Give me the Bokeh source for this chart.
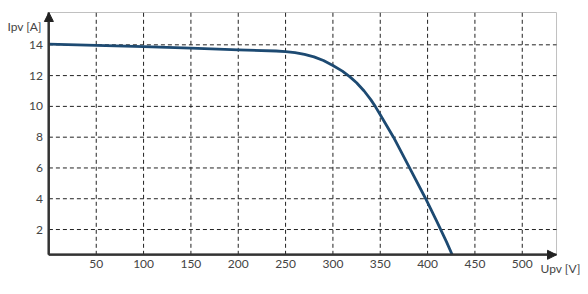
from bokeh.plotting import figure
from bokeh.models import FixedTicker, Arrow, NormalHead, Label, Range1d
from bokeh.embed import file_html
from bokeh.resources import INLINE

# Data (I-V curve)
upv = [0, 50, 100, 150, 200, 240, 250, 260, 270, 280, 290, 300, 310, 318,
       325, 333, 340, 345, 350, 364, 381, 398, 410, 420, 426]
ipv = [14.05, 13.97, 13.88, 13.78, 13.67, 13.6, 13.56, 13.49, 13.38, 13.22,
       12.98, 12.66, 12.29, 11.92, 11.54, 11.0, 10.44, 9.97, 9.46, 8.0, 6.0,
       4.0, 2.5, 1.2, 0.36]
x_ticks = [50, 100, 150, 200, 250, 300, 350, 400, 450, 500]
y_ticks = [2, 4, 6, 8, 10, 12, 14]
x_label = "Upv [V]"
y_label = "Ipv [A]"

# axes box (data units) and the visible window around it
X0, X1 = 0, 536.2
Y0, Y1 = 0.357, 16.1
XS, XE = -51.13, 569.98
YS, YE = -2.222, 16.88

FONT = "Lato"
TXT = "#444444"

p = figure(width=588, height=294, output_backend="svg", toolbar_location=None,
           x_range=Range1d(XS, XE), y_range=Range1d(YS, YE),
           min_border=0, min_border_left=0, min_border_right=0,
           min_border_top=0, min_border_bottom=0)

p.background_fill_color = "white"
p.border_fill_color = "white"
p.outline_line_color = None
p.xgrid.visible = False
p.ygrid.visible = False

# light box (top and right borders)
p.quad(left=[X0], right=[X1], bottom=[Y0], top=[Y1], fill_color=None,
       line_color="#c0c0c0", line_width=1)

# dashed grid limited to the box
p.segment(x0=x_ticks, y0=[Y0] * len(x_ticks), x1=x_ticks, y1=[Y1] * len(x_ticks),
          line_color="#222222", line_dash="4 3", line_width=1)
p.segment(x0=[X0] * len(y_ticks), y0=y_ticks, x1=[X1] * len(y_ticks), y1=y_ticks,
          line_color="#222222", line_dash="4 3", line_width=1)

# axes drawn at fixed locations inside the frame
xa, ya = p.xaxis[0], p.yaxis[0]
xa.fixed_location = Y0
ya.fixed_location = X0
xa.bounds = (X0, X1)
ya.bounds = (Y0, Y1)
for ax in (xa, ya):
    ax.axis_line_color = "#333333"
    ax.axis_line_width = 2
    ax.major_tick_line_color = None
    ax.minor_tick_line_color = None
    ax.major_tick_out = 0
    ax.major_tick_in = 0
    ax.minor_tick_out = 0
    ax.major_label_text_font = FONT
    ax.major_label_text_font_size = "12px"
    ax.major_label_text_color = TXT
xa.ticker = FixedTicker(ticks=x_ticks)
ya.ticker = FixedTicker(ticks=y_ticks)
xa.major_label_standoff = 5
ya.major_label_standoff = 6

p.line(upv, ipv, line_color="#1d4a72", line_width=2.8, line_join="round")

p.add_layout(Arrow(end=NormalHead(size=9, fill_color="#222222", line_color="#222222"),
                   x_start=X0, y_start=Y0, x_end=X0, y_end=Y1,
                   line_color="#333333", line_width=2))
p.add_layout(Arrow(end=NormalHead(size=9, fill_color="#222222", line_color="#222222"),
                   x_start=X0, y_start=Y0, x_end=X1, y_end=Y0,
                   line_color="#333333", line_width=2))

p.add_layout(Label(x=7, y=268, x_units="screen", y_units="screen", text=y_label,
                   text_baseline="middle", text_font=FONT, text_font_size="12px",
                   text_color=TXT))
p.add_layout(Label(x=540, y=26, x_units="screen", y_units="screen", text=x_label,
                   text_baseline="middle", text_font=FONT, text_font_size="12px",
                   text_color=TXT))

open("out.html", "w").write(file_html(p, INLINE))
